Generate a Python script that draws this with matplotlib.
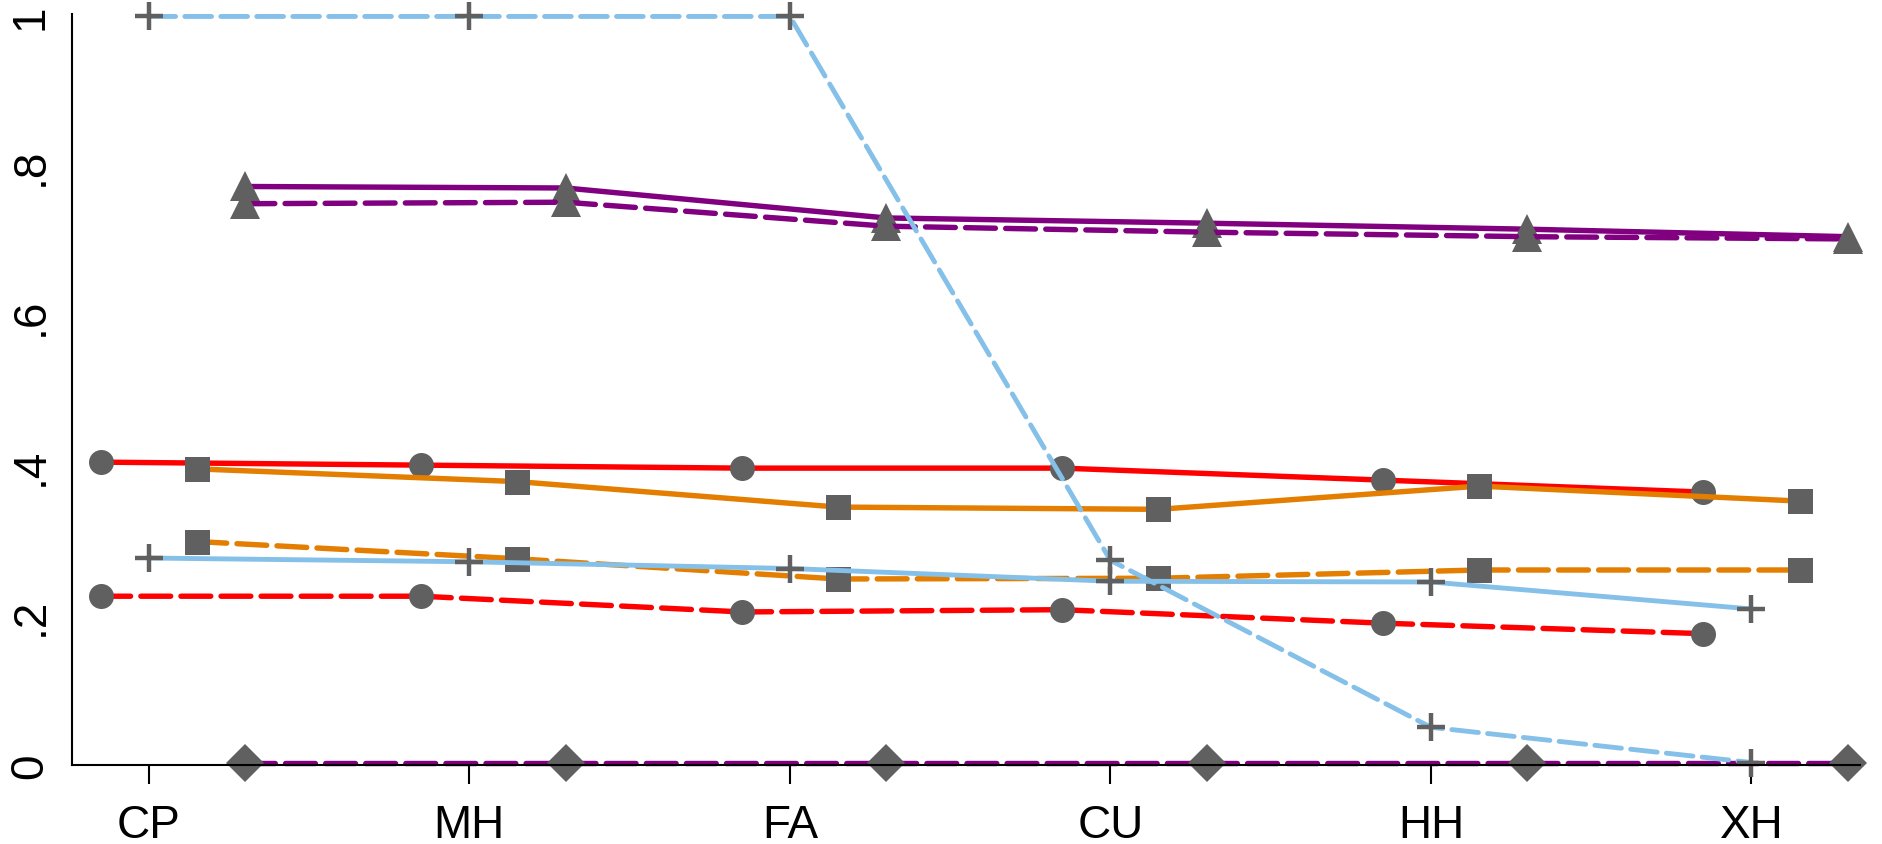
import matplotlib
matplotlib.use("Agg")
import matplotlib.pyplot as plt
import numpy as np

# categories on the x axis
categories = ["CP", "MH", "FA", "CU", "HH", "XH"]

# series values
red_solid = [0.405, 0.401, 0.397, 0.397, 0.381, 0.365]
red_dashed = [0.226, 0.226, 0.205, 0.208, 0.190, 0.176]
orange_solid = [0.396, 0.379, 0.345, 0.342, 0.373, 0.353]
orange_dashed = [0.299, 0.276, 0.249, 0.250, 0.261, 0.261]
blue_solid = [0.277, 0.272, 0.263, 0.246, 0.245, 0.209]
blue_dashed = [1.0, 1.0, 1.0, 0.274, 0.051, 0.004]
purple_solid = [0.773, 0.771, 0.731, 0.724, 0.716, 0.706]
purple_dashed = [0.750, 0.752, 0.720, 0.712, 0.706, 0.703]
purple_zero = [0.004, 0.004, 0.004, 0.004, 0.004, 0.004]

yticks = [0, 0.2, 0.4, 0.6, 0.8, 1.0]
ytick_labels = ["0", ".2", ".4", ".6", ".8", "1"]

RED = "#ff0000"
ORANGE = "#e37e00"
BLUE = "#85c0e9"
PURPLE = "#800080"
MARK = "#606060"

plt.rcParams["font.family"] = ["Liberation Sans", "DejaVu Sans"]

x = np.arange(1, len(categories) + 1)

fig = plt.figure(figsize=(18.83, 8.45), dpi=100)
ax = fig.add_axes([0.0382, 0.0929, 0.988 - 0.0382, 0.982 - 0.0929])

dash = (5.5, 1.9)


def series(xoff, vals, color, dashed, marker, ms, lw=3.9, mew=0.0):
    ax.plot(x + xoff, vals, color=color, lw=lw,
            dashes=dash if dashed else (None, None),
            linestyle="--" if dashed else "-",
            marker=marker, ms=ms, mfc=MARK, mec=MARK, mew=mew,
            solid_capstyle="round", dash_capstyle="round",
            clip_on=False)


# purple (triangles / diamonds)
series(0.3, purple_zero, PURPLE, True, "D", 19)
series(0.3, purple_solid, PURPLE, False, "^", 22)
series(0.3, purple_dashed, PURPLE, True, "^", 22)

# red (circles)
series(-0.15, red_solid, RED, False, "o", 18)
series(-0.15, red_dashed, RED, True, "o", 18)

# orange (squares)
series(0.15, orange_solid, ORANGE, False, "s", 18)
series(0.15, orange_dashed, ORANGE, True, "s", 18)

# light blue (crosses)
series(0.0, blue_solid, BLUE, False, "+", 20, lw=3.5, mew=3.2)
series(0.0, blue_dashed, BLUE, True, "+", 20, lw=3.5, mew=3.2)

ax.set_xlim(0.76, 6.34)
ax.set_ylim(0, 1.003)

ax.set_xticks(x)
ax.set_xticklabels(categories, fontsize=33)
ax.set_yticks(yticks)
ax.set_yticklabels(ytick_labels, fontsize=33, rotation=90, va="center")

ax.tick_params(axis="x", length=14, width=1.5, pad=13, color="black")
ax.tick_params(axis="y", length=0, pad=14)

for side in ["top", "right"]:
    ax.spines[side].set_visible(False)
for side in ["left", "bottom"]:
    ax.spines[side].set_linewidth(1.5)
    ax.spines[side].set_color("black")

fig.savefig("out.png", dpi=100)
